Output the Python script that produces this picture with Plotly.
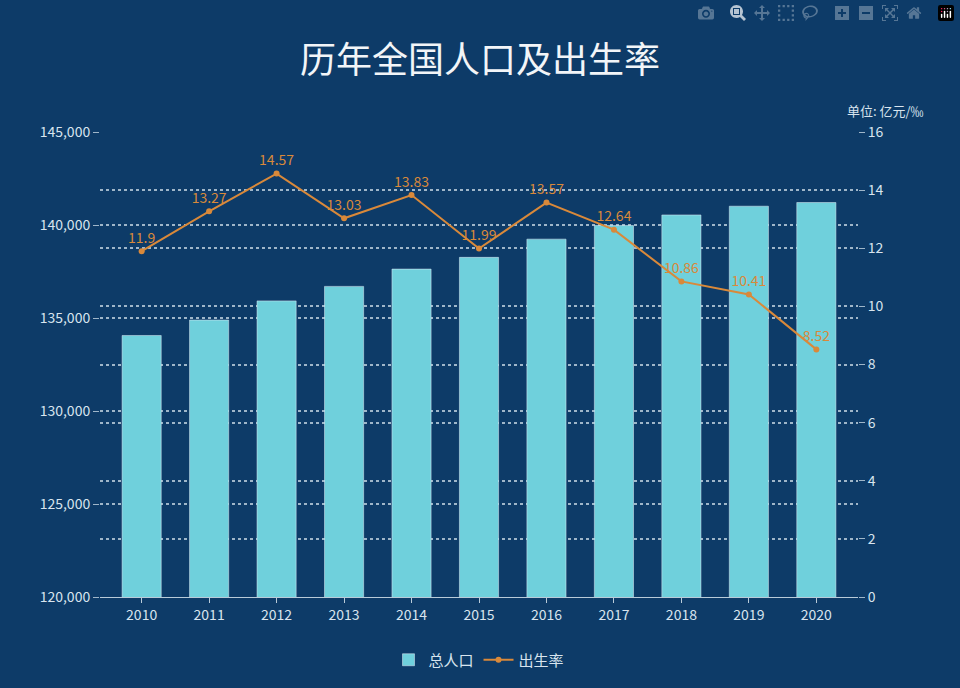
import plotly.graph_objects as go

years = ["2010","2011","2012","2013","2014","2015","2016","2017","2018","2019","2020"]
population = [134060, 134890, 135920, 136700, 137630, 138260, 139240, 139970, 140540, 141010, 141210]
birth_rate = [11.9, 13.27, 14.57, 13.03, 13.83, 11.99, 13.57, 12.64, 10.86, 10.41, 8.52]
rate_labels = ["11.9","13.27","14.57","13.03","13.83","11.99","13.57","12.64","10.86","10.41","8.52"]

bg = "#0d3b68"
txt = "#d8e4ee"
font = "Noto Sans CJK SC"

fig = go.Figure()
fig.add_trace(go.Bar(x=years, y=population, name="总人口", marker_color="#6fd0dc",
                     width=0.58, yaxis="y"))
fig.add_trace(go.Scatter(x=years, y=birth_rate, name="出生率", mode="lines+markers+text",
                         line=dict(color="#d9893a", width=2), marker=dict(size=6, color="#d9893a"),
                         text=rate_labels, textposition="top center",
                         textfont=dict(color="#d9893a", size=14, family=font), yaxis="y2"))

fig.update_layout(
    width=960, height=688, paper_bgcolor=bg, plot_bgcolor=bg,
    margin=dict(l=100, r=102, t=132, b=74),
    font=dict(family=font, color=txt, size=14),
    title=dict(text="历年全国人口及出生率", x=0.5, y=0.93, xanchor="center",
               font=dict(size=36, color="#f2f5f8", family=font)),
    xaxis=dict(showgrid=False, showline=True, linecolor="#b9cbd9", ticks="outside",
               tickcolor="#b9cbd9", ticklen=5, tickfont=dict(size=14, color=txt)),
    yaxis=dict(range=[120000, 145000], tickvals=[120000,125000,130000,135000,140000,145000],
               tickformat=",", showgrid=True, gridcolor="#9fb6c9", griddash="dot", gridwidth=1.5,
               zeroline=False, ticks="outside", tickcolor="#9fb6c9", ticklen=6,
               tickfont=dict(size=14, color=txt)),
    yaxis2=dict(range=[0, 16], dtick=2, overlaying="y", side="right", showgrid=True,
                gridcolor="#9fb6c9", griddash="dot", gridwidth=1.5, zeroline=False,
                ticks="outside", tickcolor="#9fb6c9", ticklen=6, tickfont=dict(size=14, color=txt)),
    legend=dict(orientation="h", x=0.5, xanchor="center", y=-0.1, yanchor="top",
                font=dict(size=15, color=txt)),
    showlegend=True,
)
fig.add_annotation(text="单位: 亿元/‰", xref="paper", yref="paper", x=1.09, y=1.07,
                   xanchor="right", showarrow=False, font=dict(size=13, color=txt, family=font))
fig.write_html("out.html", post_script="document.body.style.margin='0';document.body.style.background='#0d3b68';")
